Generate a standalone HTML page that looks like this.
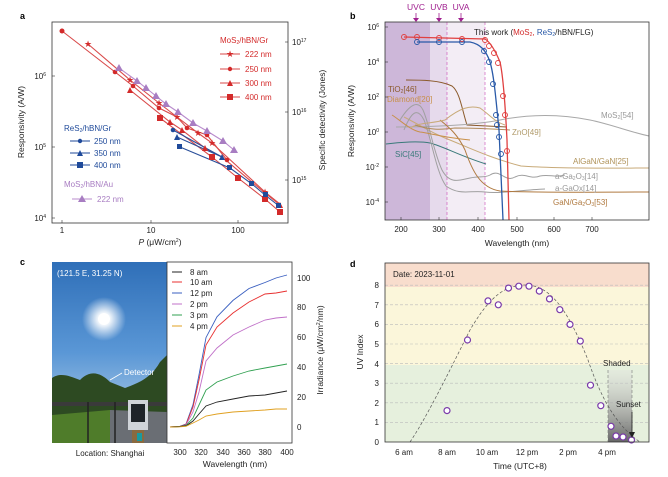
<!DOCTYPE html>
<html><head><meta charset="utf-8"><style>
body{margin:0;background:#fff}
svg{display:block;font-family:"Liberation Sans",sans-serif}
</style></head><body>
<svg width="668" height="477" viewBox="0 0 668 477" xmlns="http://www.w3.org/2000/svg">
<defs>
<linearGradient id="sky" x1="0" y1="0" x2="0" y2="1"><stop offset="0" stop-color="#2f6fb8"/><stop offset="0.5" stop-color="#5a97d6"/><stop offset="0.75" stop-color="#8fb8e0"/><stop offset="1" stop-color="#a8c4df"/></linearGradient>
<radialGradient id="sun"><stop offset="0" stop-color="#fff"/><stop offset="0.3" stop-color="#fff" stop-opacity="0.9"/><stop offset="1" stop-color="#fff" stop-opacity="0"/></radialGradient>
<linearGradient id="shade" x1="0" y1="0" x2="0" y2="1"><stop offset="0" stop-color="#ddd" stop-opacity="0.3"/><stop offset="1" stop-color="#666"/></linearGradient>
</defs>

<!-- ============ PANEL A ============ -->
<text x="20" y="19" font-size="9" font-weight="bold">a</text>
<rect x="52" y="22" width="236" height="201" fill="none" stroke="#333" stroke-width="0.8"/>
<g font-size="8" fill="#222">
<text x="46" y="79" text-anchor="end">10<tspan font-size="5" dy="-3">6</tspan></text>
<text x="46" y="150" text-anchor="end">10<tspan font-size="5" dy="-3">5</tspan></text>
<text x="46" y="221" text-anchor="end">10<tspan font-size="5" dy="-3">4</tspan></text>
<text x="62" y="233" text-anchor="middle">1</text>
<text x="151" y="233" text-anchor="middle">10</text>
<text x="238" y="233" text-anchor="middle">100</text>
<text x="292" y="45">10<tspan font-size="5" dy="-3">17</tspan></text>
<text x="292" y="115">10<tspan font-size="5" dy="-3">16</tspan></text>
<text x="292" y="183">10<tspan font-size="5" dy="-3">15</tspan></text>
<text x="24" y="122" text-anchor="middle" transform="rotate(-90 24 122)" font-size="8.5">Responsivity (A/W)</text>
<text x="325" y="120" text-anchor="middle" transform="rotate(-90 325 120)" font-size="8.5">Specific detectivity (Jones)</text>
<text x="160" y="245" text-anchor="middle" font-size="8.5"><tspan font-style="italic">P</tspan> (μW/cm<tspan font-size="5" dy="-3">2</tspan><tspan dy="3">)</tspan></text>
</g>
<g stroke="#333" stroke-width="0.6">
<line x1="52" y1="76" x2="55" y2="76"/><line x1="52" y1="147" x2="55" y2="147"/><line x1="52" y1="218" x2="55" y2="218"/>
<line x1="62" y1="223" x2="62" y2="220"/><line x1="151" y1="223" x2="151" y2="220"/><line x1="238" y1="223" x2="238" y2="220"/>
<line x1="288" y1="42" x2="285" y2="42"/><line x1="288" y1="112" x2="285" y2="112"/><line x1="288" y1="180" x2="285" y2="180"/>
</g>
<g fill="none" stroke-width="1.1">
<polyline stroke="#d94a4a" points="62,31 115,72 133,86 159,108 177,117 187,128 207,135 227,160"/>
<polyline stroke="#d94a4a" points="88,44 130,80 159,103 177,117 198,133 212,143 265,192 280,204"/>
<polyline stroke="#d94a4a" points="130,90 170,122 182,130 205,148 222,157 265,193 280,205"/>
<polyline stroke="#d94a4a" points="160,118 212,157 238,178 265,199 280,212"/>
<polyline stroke="#2a4f9a" points="173,130 222,157"/>
<polyline stroke="#2a4f9a" points="177,137 222,157"/>
<polyline stroke="#2a4f9a" points="180,147 230,168 252,184 265,195 279,206"/>
<polyline stroke="#b98bcc" points="119,68 137,81 146,88 156,96 166,104 178,112 193,123 207,131 223,141 234,150"/>
</g>
<g fill="#d32a2a">
<circle cx="62" cy="31" r="2.5"/><circle cx="115" cy="72" r="2.3"/><circle cx="133" cy="86" r="2.3"/><circle cx="159" cy="108" r="2.3"/><circle cx="187" cy="128" r="2.3"/><circle cx="207" cy="135" r="2.3"/><circle cx="227" cy="160" r="2.3"/>
<g font-size="9" text-anchor="middle"><text x="88" y="47">★</text><text x="130" y="83">★</text><text x="159" y="106">★</text><text x="177" y="120">★</text><text x="198" y="136">★</text><text x="212" y="146">★</text><text x="265" y="195">★</text></g>
<polygon points="130,87 133,93 127,93"/><polygon points="170,119 173,125 167,125"/><polygon points="182,127 185,133 179,133"/><polygon points="205,145 208,151 202,151"/><polygon points="280,202 283,208 277,208"/>
<rect x="157" y="115" width="6" height="6"/><rect x="209" y="154" width="6" height="6"/><rect x="235" y="175" width="6" height="6"/><rect x="262" y="196" width="6" height="6"/><rect x="277" y="209" width="6" height="6"/>
</g>
<g fill="#1f4a9a">
<circle cx="173" cy="130" r="2.3"/><polygon points="177,134 180,140 174,140"/><polygon points="222,154 225,160 219,160"/>
<rect x="177" y="144" width="5" height="5"/><rect x="227" y="165" width="5" height="5"/><rect x="249" y="181" width="5" height="5"/><rect x="263" y="192" width="5" height="5"/><rect x="276" y="203" width="5" height="5"/>
</g>
<g fill="#a87dc2">
<polygon points="119,64 123,71 115,71"/><polygon points="137,77 141,84 133,84"/><polygon points="146,84 150,91 142,91"/><polygon points="156,92 160,99 152,99"/><polygon points="166,100 170,107 162,107"/><polygon points="178,108 182,115 174,115"/><polygon points="193,119 197,126 189,126"/><polygon points="207,127 211,134 203,134"/><polygon points="223,137 227,144 219,144"/><polygon points="234,146 238,153 230,153"/>
</g>
<g font-size="8">
<text x="220" y="43" fill="#d32a2a">MoS<tspan font-size="5" dy="1">2</tspan><tspan dy="-1">/hBN/Gr</tspan></text>
<g stroke="#d94a4a" stroke-width="0.9"><line x1="220" y1="54" x2="240" y2="54"/><line x1="220" y1="69" x2="240" y2="69"/><line x1="220" y1="83" x2="240" y2="83"/><line x1="220" y1="97" x2="240" y2="97"/></g>
<g fill="#d32a2a"><text x="230" y="57" font-size="9" text-anchor="middle">★</text><circle cx="230" cy="69" r="2.2"/><polygon points="230,80 233,86 227,86"/><rect x="227" y="94" width="6" height="6"/>
<text x="245" y="57">222 nm</text><text x="245" y="72">250 nm</text><text x="245" y="86">300 nm</text><text x="245" y="100">400 nm</text></g>
<text x="64" y="131" fill="#1f4a9a">ReS<tspan font-size="5" dy="1">2</tspan><tspan dy="-1">/hBN/Gr</tspan></text>
<g stroke="#1f4a9a" stroke-width="0.9"><line x1="70" y1="141" x2="90" y2="141"/><line x1="70" y1="153" x2="90" y2="153"/><line x1="70" y1="165" x2="90" y2="165"/></g>
<g fill="#1f4a9a"><circle cx="80" cy="141" r="2.2"/><polygon points="80,150 83,156 77,156"/><rect x="77" y="162" width="6" height="6"/>
<text x="94" y="144">250 nm</text><text x="94" y="156">350 nm</text><text x="94" y="168">400 nm</text></g>
<text x="64" y="187" fill="#a87dc2">MoS<tspan font-size="5" dy="1">2</tspan><tspan dy="-1">/hBN/Au</tspan></text>
<line x1="72" y1="199" x2="92" y2="199" stroke="#b98bcc" stroke-width="0.9"/>
<polygon points="82,195 86,202 78,202" fill="#a87dc2"/>
<text x="97" y="202" fill="#a87dc2">222 nm</text>
</g>

<!-- ============ PANEL B ============ -->
<text x="350" y="19" font-size="9" font-weight="bold">b</text>
<rect x="385" y="22" width="45" height="198" fill="#cdb7d9"/>
<rect x="430" y="22" width="17" height="198" fill="#e6daec"/>
<rect x="447" y="22" width="38" height="198" fill="#f3edf5"/>
<g stroke="#d060c0" stroke-width="0.7" stroke-dasharray="3,2"><line x1="447" y1="22" x2="447" y2="220"/><line x1="485" y1="22" x2="485" y2="220"/></g>
<g fill="#a0208f" font-size="8.5" text-anchor="middle"><text x="416" y="10">UVC</text><text x="439" y="10">UVB</text><text x="461" y="10">UVA</text></g>
<g stroke="#a0208f" stroke-width="0.8"><line x1="416" y1="13" x2="416" y2="21"/><line x1="439" y1="13" x2="439" y2="21"/><line x1="461" y1="13" x2="461" y2="21"/></g>
<g fill="#a0208f"><polygon points="413,18 419,18 416,22"/><polygon points="436,18 442,18 439,22"/><polygon points="458,18 464,18 461,22"/></g>
<g fill="none" stroke-width="1">
<path d="M406,80 C420,80 440,80 452,86 C460,92 462,110 467,125 L507,127" stroke="#8b5a2b"/>
<path d="M396,127 C420,127 470,126 500,120 C530,114 560,114 590,120 C610,124 630,132 649,136" stroke="#a8a8a8"/>
<path d="M404,117 C420,125 430,132 445,138 C470,148 490,158 521,166 C560,169 620,168 649,168" stroke="#c8aa78"/>
<path d="M386,144 C400,142 420,141 430,143 C445,147 460,156 486,164" stroke="#3a7a7a"/>
<path d="M400,120 C410,104 418,100 423,110 C430,126 433,150 442,170 C450,185 460,180 470,178 C480,176 485,178 490,175 C500,168 505,183 515,177 C525,172 530,180 540,176 C550,174 555,178 565,175" stroke="#a0a0a0"/>
<path d="M404,130 C412,110 418,108 424,120 C432,140 436,172 446,186 C460,196 470,190 485,192 C500,194 520,190 545,189" stroke="#a0a0a0"/>
<path d="M440,120 C450,128 458,135 465,150 C472,170 480,188 500,191 C540,193 600,192 649,192" stroke="#b07a40"/>
<path d="M392,115 C400,120 410,130 420,132 C430,133 440,137 470,140" stroke="#c8904a"/>
<path d="M410,128 C420,122 430,124 445,120 C460,108 470,105 480,108 C490,115 495,122 505,125" stroke="#c8aa78"/>
<path d="M415,125 C430,130 440,130 455,128 C470,128 480,128 510,130" stroke="#b08a5a"/>
</g>
<path d="M404,37 L485,39 C490,42 495,50 500,62 C503,75 505,100 507,140 L509,220" fill="none" stroke="#e04040" stroke-width="1.3"/>
<path d="M417,42 L470,42 C480,44 486,50 490,62 C494,75 496,100 499,130 L503,220" fill="none" stroke="#2a5aa8" stroke-width="1.3"/>
<g fill="none" stroke="#e04040" stroke-width="0.9">
<circle cx="404" cy="37" r="2.5"/><circle cx="417" cy="37" r="2.5"/><circle cx="439" cy="38" r="2.5"/><circle cx="462" cy="39" r="2.5"/><circle cx="485" cy="40" r="2.5"/><circle cx="489" cy="46" r="2.5"/><circle cx="494" cy="53" r="2.5"/><circle cx="498" cy="63" r="2.5"/><circle cx="503" cy="96" r="2.5"/><circle cx="505" cy="115" r="2.5"/><circle cx="507" cy="151" r="2.5"/></g>
<g fill="none" stroke="#2a5aa8" stroke-width="0.9">
<circle cx="417" cy="42" r="2.5"/><circle cx="439" cy="42" r="2.5"/><circle cx="462" cy="42" r="2.5"/><circle cx="484" cy="51" r="2.5"/><circle cx="489" cy="62" r="2.5"/><circle cx="493" cy="84" r="2.5"/><circle cx="496" cy="115" r="2.5"/><circle cx="497" cy="125" r="2.5"/><circle cx="499" cy="137" r="2.5"/><circle cx="501" cy="154" r="2.5"/></g>
<rect x="385" y="22" width="264" height="198" fill="none" stroke="#333" stroke-width="0.8"/>
<g font-size="8" fill="#222">
<text x="474" y="35">This work (<tspan fill="#d32a2a">MoS<tspan font-size="5" dy="1">2</tspan><tspan dy="-1">,</tspan></tspan> <tspan fill="#2a5aa8">ReS<tspan font-size="5" dy="1">2</tspan></tspan><tspan dy="-1">/hBN/FLG)</tspan></text>
<text x="379" y="30" text-anchor="end">10<tspan font-size="5" dy="-3">6</tspan></text>
<text x="379" y="65" text-anchor="end">10<tspan font-size="5" dy="-3">4</tspan></text>
<text x="379" y="100" text-anchor="end">10<tspan font-size="5" dy="-3">2</tspan></text>
<text x="379" y="135" text-anchor="end">10<tspan font-size="5" dy="-3">0</tspan></text>
<text x="379" y="170" text-anchor="end">10<tspan font-size="5" dy="-3">-2</tspan></text>
<text x="379" y="205" text-anchor="end">10<tspan font-size="5" dy="-3">-4</tspan></text>
<text x="401" y="232" text-anchor="middle">200</text><text x="439" y="232" text-anchor="middle">300</text><text x="478" y="232" text-anchor="middle">400</text><text x="517" y="232" text-anchor="middle">500</text><text x="554" y="232" text-anchor="middle">600</text><text x="592" y="232" text-anchor="middle">700</text>
<text x="354" y="121" text-anchor="middle" transform="rotate(-90 354 121)" font-size="8.5">Responsivity (A/W)</text>
<text x="517" y="246" text-anchor="middle" font-size="8.5">Wavelength (nm)</text>
<text x="388" y="92" fill="#8b5a2b">TiO<tspan font-size="5" dy="1">2</tspan><tspan dy="-1">[46]</tspan></text>
<text x="387" y="102" fill="#c8904a">Diamond[20]</text>
<text x="395" y="157" fill="#3a7a7a">SiC[45]</text>
<text x="512" y="135" fill="#b09a6a">ZnO[49]</text>
<text x="601" y="118" fill="#999">MoS<tspan font-size="5" dy="1">2</tspan><tspan dy="-1">[54]</tspan></text>
<text x="573" y="164" fill="#b0935a">AlGaN/GaN[25]</text>
<text x="555" y="179" fill="#999">a-Ga<tspan font-size="5" dy="1">2</tspan><tspan dy="-1">O</tspan><tspan font-size="5" dy="1">3</tspan><tspan dy="-1">[14]</tspan></text>
<text x="555" y="191" fill="#999">a-GaOx[14]</text>
<text x="553" y="205" fill="#b07a40">GaN/Ga<tspan font-size="5" dy="1">2</tspan><tspan dy="-1">O</tspan><tspan font-size="5" dy="1">3</tspan><tspan dy="-1">[53]</tspan></text>
</g>
<g stroke="#333" stroke-width="0.6">
<line x1="385" y1="27" x2="388" y2="27"/><line x1="385" y1="62" x2="388" y2="62"/><line x1="385" y1="97" x2="388" y2="97"/><line x1="385" y1="132" x2="388" y2="132"/><line x1="385" y1="167" x2="388" y2="167"/><line x1="385" y1="202" x2="388" y2="202"/>
<line x1="401" y1="220" x2="401" y2="217"/><line x1="439" y1="220" x2="439" y2="217"/><line x1="478" y1="220" x2="478" y2="217"/><line x1="517" y1="220" x2="517" y2="217"/><line x1="554" y1="220" x2="554" y2="217"/><line x1="592" y1="220" x2="592" y2="217"/>
</g>

<!-- ============ PANEL C ============ -->
<text x="20" y="265" font-size="9" font-weight="bold">c</text>
<rect x="52" y="262" width="115" height="181" fill="url(#sky)"/>
<circle cx="104" cy="319" r="22" fill="url(#sun)"/>
<circle cx="104" cy="319" r="6" fill="#fff"/>
<path d="M52,378 C60,372 70,376 80,380 C90,370 100,372 110,382 L125,388 C135,384 150,380 160,362 L167,355 L167,443 L52,443 Z" fill="#2d4a22"/>
<rect x="52" y="402" width="115" height="4" fill="#3a3a3a"/>
<path d="M52,415 L110,410 L110,443 L52,443 Z" fill="#4f7c2a"/>
<path d="M110,410 L167,412 L167,443 L110,443 Z" fill="#6a6e74"/>
<rect x="128" y="400" width="20" height="30" fill="#cfd3d8"/>
<rect x="131" y="404" width="14" height="18" fill="#1e2328"/>
<rect x="132" y="430" width="12" height="13" fill="#8a6a40"/>
<rect x="137" y="433" width="5" height="8" fill="#1a9aa0"/>
<line x1="88" y1="402" x2="88" y2="443" stroke="#222" stroke-width="1.5"/><line x1="115" y1="402" x2="115" y2="443" stroke="#222" stroke-width="1.5"/>
<text x="57" y="276" font-size="8" fill="#fff">(121.5 E, 31.25 N)</text>
<text x="124" y="375" font-size="8" fill="#fff">Detector</text>
<line x1="122" y1="373" x2="110" y2="380" stroke="#fff" stroke-width="0.8"/>
<text x="110" y="456" font-size="8" text-anchor="middle" fill="#222">Location: Shanghai</text>
<rect x="167" y="262" width="125" height="181" fill="none" stroke="#333" stroke-width="0.8"/>
<g fill="none" stroke-width="0.9">
<polyline stroke="#3a5fc0" points="170,427 180,426.3 186,424 193,404.7 199,374.9 206,337.6 217,316.8 233,300.4 249,288.5 265,282.5 276,278 287,275"/>
<polyline stroke="#e83030" points="170,427 180,426.3 186,424.5 193,407 199,380 206,345 217,327 233,313 249,302 265,294 276,293 287,291"/>
<polyline stroke="#c070c8" points="170,427 180,426.5 186,425 193,412 199,392 206,361 217,348 233,335 249,327 265,320 276,318 287,317"/>
<polyline stroke="#30a050" points="170,427 180,426.5 186,425.5 193,418 199,405 206,390 217,382 233,376 249,371 265,368 276,366 287,364"/>
<polyline stroke="#222" points="170,427 180,426.5 186,426 193,421 199,414 206,406 217,402 233,399 249,396 265,395 276,393 287,391"/>
<polyline stroke="#e0a020" points="170,427 180,426.8 186,426.3 193,423 199,420 206,416 217,414 233,412 249,411 265,410 276,409 287,409"/>
</g>
<g font-size="8" fill="#222">
<line x1="172" y1="272" x2="182" y2="272" stroke="#222"/><text x="190" y="275">8 am</text>
<line x1="172" y1="282" x2="182" y2="282" stroke="#e83030"/><text x="190" y="285">10 am</text>
<line x1="172" y1="293" x2="182" y2="293" stroke="#3a5fc0"/><text x="190" y="296">12 pm</text>
<line x1="172" y1="304" x2="182" y2="304" stroke="#c070c8"/><text x="190" y="307">2 pm</text>
<line x1="172" y1="315" x2="182" y2="315" stroke="#30a050"/><text x="190" y="318">3 pm</text>
<line x1="172" y1="326" x2="182" y2="326" stroke="#e0a020"/><text x="190" y="329">4 pm</text>
<text x="297" y="430">0</text><text x="297" y="400">20</text><text x="297" y="370">40</text><text x="297" y="340">60</text><text x="297" y="310">80</text><text x="297" y="281">100</text>
<text x="180" y="455" text-anchor="middle">300</text><text x="201" y="455" text-anchor="middle">320</text><text x="223" y="455" text-anchor="middle">340</text><text x="244" y="455" text-anchor="middle">360</text><text x="265" y="455" text-anchor="middle">380</text><text x="287" y="455" text-anchor="middle">400</text>
<text x="235" y="467" text-anchor="middle" font-size="8.5">Wavelength (nm)</text>
<text x="323" y="350" text-anchor="middle" transform="rotate(-90 323 350)" font-size="8.5">Irradiance (μW/cm<tspan font-size="5" dy="-3">2</tspan><tspan dy="3">/nm)</tspan></text>
</g>

<!-- ============ PANEL D ============ -->
<text x="350" y="267" font-size="9" font-weight="bold">d</text>
<rect x="385" y="263" width="264" height="24" fill="#f8ddcd"/>
<rect x="385" y="287" width="264" height="78" fill="#fbf6da"/>
<rect x="385" y="365" width="264" height="77" fill="#e6f0dd"/>
<g stroke="#bbb" stroke-width="0.6" stroke-dasharray="3,2">
<line x1="385" y1="422.4" x2="649" y2="422.4"/><line x1="385" y1="402.8" x2="649" y2="402.8"/><line x1="385" y1="383.2" x2="649" y2="383.2"/><line x1="385" y1="363.6" x2="649" y2="363.6"/><line x1="385" y1="344" x2="649" y2="344"/><line x1="385" y1="324.4" x2="649" y2="324.4"/><line x1="385" y1="304.8" x2="649" y2="304.8"/><line x1="385" y1="285.2" x2="649" y2="285.2"/>
</g>
<rect x="608" y="370" width="24" height="72" fill="url(#shade)"/>
<g stroke="#777" stroke-width="0.6" stroke-dasharray="3,2"><line x1="608" y1="370" x2="608" y2="442"/><line x1="632" y1="370" x2="632" y2="430"/></g>
<path d="M410,442 C425,420 445,380 470,330 C490,296 505,285 526,285 C550,285 568,310 588,360 C600,395 615,425 640,442" fill="none" stroke="#555" stroke-width="0.7" stroke-dasharray="3,2"/>
<g fill="#fff" stroke="#7a3aaa" stroke-width="1.2">
<circle cx="447" cy="410.6" r="3"/><circle cx="467.5" cy="340" r="3"/><circle cx="488" cy="300.9" r="3"/><circle cx="498.3" cy="304.8" r="3"/><circle cx="508.5" cy="288.1" r="3"/><circle cx="518.8" cy="286.2" r="3"/><circle cx="529" cy="286.2" r="3"/><circle cx="539.3" cy="291.1" r="3"/><circle cx="549.5" cy="298.9" r="3"/><circle cx="559.8" cy="309.7" r="3"/><circle cx="570" cy="324.4" r="3"/><circle cx="580.3" cy="341.1" r="3"/><circle cx="590.5" cy="385.2" r="3"/><circle cx="600.8" cy="405.7" r="3"/><circle cx="611" cy="426.3" r="3"/><circle cx="616" cy="436" r="3"/><circle cx="623" cy="437" r="3"/><circle cx="631.5" cy="440" r="3"/>
</g>
<line x1="632" y1="412" x2="632" y2="434" stroke="#222" stroke-width="0.8"/><polygon points="629,432 635,432 632,438" fill="#222"/>
<rect x="385" y="263" width="264" height="179" fill="none" stroke="#333" stroke-width="0.8"/>
<g font-size="8" fill="#222">
<text x="393" y="277">Date: 2023-11-01</text>
<text x="603" y="366">Shaded</text><text x="616" y="407">Sunset</text>
<text x="379" y="445" text-anchor="end">0</text><text x="379" y="425" text-anchor="end">1</text><text x="379" y="406" text-anchor="end">2</text><text x="379" y="386" text-anchor="end">3</text><text x="379" y="367" text-anchor="end">4</text><text x="379" y="347" text-anchor="end">5</text><text x="379" y="327" text-anchor="end">6</text><text x="379" y="308" text-anchor="end">7</text><text x="379" y="288" text-anchor="end">8</text>
<text x="404" y="455" text-anchor="middle">6 am</text><text x="447" y="455" text-anchor="middle">8 am</text><text x="487" y="455" text-anchor="middle">10 am</text><text x="527" y="455" text-anchor="middle">12 pm</text><text x="568" y="455" text-anchor="middle">2 pm</text><text x="607" y="455" text-anchor="middle">4 pm</text>
<text x="520" y="469" text-anchor="middle" font-size="8.5">Time (UTC+8)</text>
<text x="363" y="352" text-anchor="middle" transform="rotate(-90 363 352)" font-size="8.5">UV Index</text>
</g>
</svg>
</body></html>
